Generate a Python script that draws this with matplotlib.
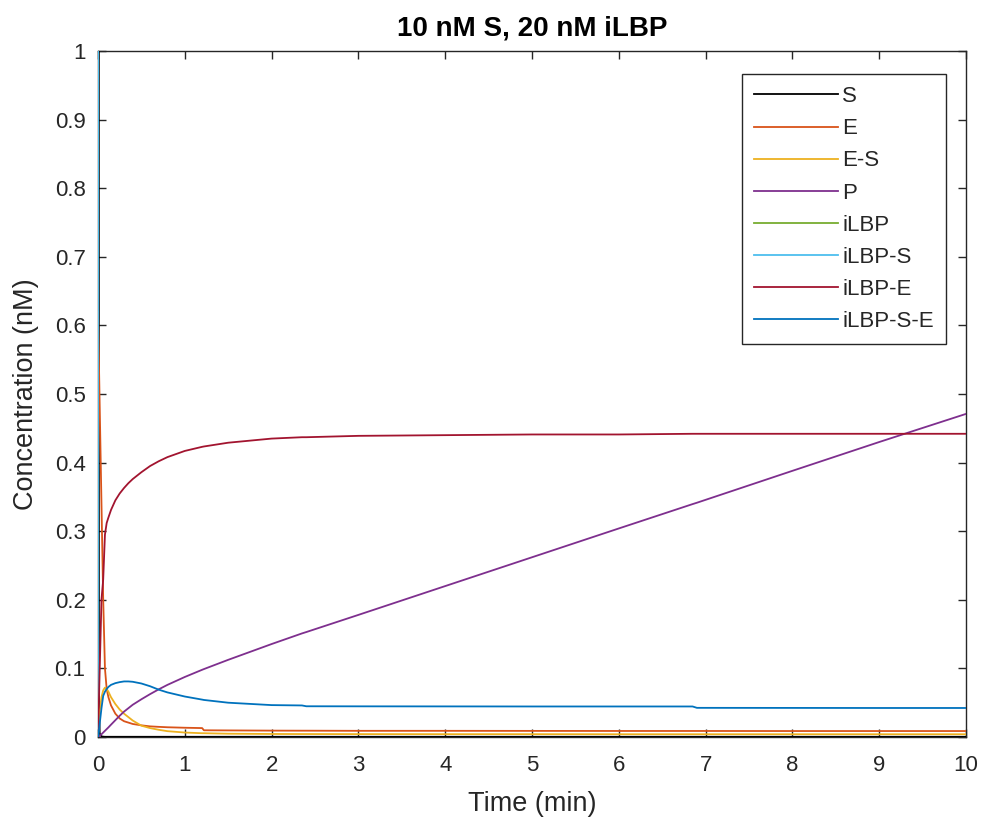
import matplotlib
matplotlib.use("Agg")
import matplotlib.pyplot as plt

plt.rcParams['font.family'] = ['Liberation Sans', 'DejaVu Sans']

# time points (min)
t = [0, 0.01, 0.02, 0.04, 0.06, 0.08, 0.10, 0.12, 0.15, 0.20, 0.25, 0.30, 0.35, 0.40,
     0.50, 0.60, 0.70, 0.80, 1.00, 1.20, 1.22, 1.50, 2.00, 2.35, 2.40, 3.0, 4.0, 5.0,
     6.0, 6.85, 6.90, 8.0, 9.0, 10.0]

S = [10, 0.05, 0.005, 0.001, 0.0005, 0.0003, 0.0003, 0.0003, 0.0003, 0.0003, 0.0003,
     0.0003, 0.0003, 0.0003, 0.0003, 0.0003, 0.0003, 0.0003, 0.0003, 0.0003, 0.0003,
     0.0003, 0.0003, 0.0003, 0.0003, 0.0003, 0.0003, 0.0003, 0.0003, 0.0003, 0.0003,
     0.0003, 0.0003, 0.0003]
E = [0.62, 0.55, 0.48, 0.34, 0.20, 0.10, 0.070, 0.058, 0.046, 0.034, 0.027, 0.023,
     0.021, 0.019, 0.017, 0.0155, 0.0148, 0.0142, 0.0135, 0.013, 0.0098, 0.0096,
     0.0093, 0.0092, 0.0092, 0.009, 0.009, 0.0089, 0.0088, 0.0088, 0.0088, 0.0087,
     0.0087, 0.0087]
ES = [0, 0.02, 0.038, 0.058, 0.068, 0.072, 0.070, 0.066, 0.058, 0.048, 0.040, 0.034,
      0.029, 0.024, 0.0165, 0.013, 0.0105, 0.0085, 0.0065, 0.0055, 0.0055, 0.0048,
      0.0044, 0.0043, 0.0043, 0.0042, 0.0041, 0.0041, 0.0040, 0.0040, 0.0040, 0.0040,
      0.0040, 0.0040]
P = [0, 0.0007, 0.0015, 0.004, 0.0065, 0.009, 0.0115, 0.014, 0.018, 0.0245, 0.031,
     0.037, 0.042, 0.047, 0.055, 0.0625, 0.0695, 0.076, 0.0875, 0.098, 0.099, 0.1125,
     0.1355, 0.151, 0.153, 0.178, 0.220, 0.262, 0.304, 0.3395, 0.3415, 0.388, 0.430,
     0.471]
iLBP = [20, 11, 10.2, 10.05, 10.02, 10.01, 10.01, 10.01, 10.01, 10.01, 10.01, 10.01,
        10.01, 10.01, 10.01, 10.01, 10.01, 10.01, 10.01, 10.01, 10.01, 10.01, 10.01,
        10.01, 10.01, 10.01, 10.01, 10.01, 10.01, 10.01, 10.01, 10.01, 10.01, 10.01]
iLBP_S = [0, 9.0, 9.8, 9.9, 9.95, 9.95, 9.95, 9.95, 9.95, 9.95, 9.95, 9.95, 9.95, 9.95,
          9.95, 9.95, 9.95, 9.95, 9.95, 9.95, 9.95, 9.95, 9.95, 9.95, 9.95, 9.95, 9.95,
          9.95, 9.95, 9.95, 9.95, 9.95, 9.95, 9.95]
iLBP_E = [0, 0.05, 0.10, 0.20, 0.23, 0.295, 0.312, 0.32, 0.331, 0.345, 0.355, 0.363,
          0.370, 0.376, 0.386, 0.395, 0.402, 0.408, 0.417, 0.423, 0.4235, 0.429, 0.435,
          0.437, 0.437, 0.439, 0.440, 0.441, 0.441, 0.442, 0.442, 0.442, 0.442, 0.442]
iLBP_SE = [0, 0.008, 0.020, 0.042, 0.060, 0.066, 0.070, 0.073, 0.076, 0.0785, 0.080,
           0.081, 0.081, 0.0805, 0.078, 0.074, 0.069, 0.065, 0.059, 0.0545, 0.054, 0.050,
           0.0465, 0.046, 0.0448, 0.0447, 0.0446, 0.0445, 0.0445, 0.0445, 0.0425, 0.0424,
           0.0423, 0.0423]

labels = ['S', 'E', 'E-S', 'P', 'iLBP', 'iLBP-S', 'iLBP-E', 'iLBP-S-E']
series = [S, E, ES, P, iLBP, iLBP_S, iLBP_E, iLBP_SE]
colors = ['#000000', '#D95319', '#EDB120', '#7E2F8E', '#77AC30', '#4DBEEE',
          '#A2142F', '#0072BD']

xticks = [0, 1, 2, 3, 4, 5, 6, 7, 8, 9, 10]
yticks = [0, 0.1, 0.2, 0.3, 0.4, 0.5, 0.6, 0.7, 0.8, 0.9, 1]
yticklabels = ['0', '0.1', '0.2', '0.3', '0.4', '0.5', '0.6', '0.7', '0.8', '0.9', '1']

fig = plt.figure(figsize=(9.86, 8.23), dpi=100)
ax = fig.add_axes([98/986, 86/823, 868/986, 686/823])
for y, lab, c in zip(series, labels, colors):
    ax.plot(t, y, color=c, lw=1.3, label=lab, zorder=3)

ax.set_xlim(0, 10)
ax.set_ylim(0, 1)
ax.set_xticks(xticks)
ax.set_yticks(yticks)
ax.set_yticklabels(yticklabels)
ink = '#262626'
ax.tick_params(direction='in', top=True, right=True, length=6, width=1,
               colors=ink, labelsize=16)
ax.tick_params(axis='x', pad=13)
ax.tick_params(axis='y', pad=9)
for s in ax.spines.values():
    s.set_color(ink)
    s.set_linewidth(1.0)
ax.set_xlabel('Time (min)', fontsize=19.5, color=ink, labelpad=11)
ax.set_ylabel('Concentration (nM)', fontsize=19.5, color=ink, labelpad=11)
ax.set_title('10 nM S, 20 nM iLBP', fontsize=20, fontweight='bold', color='black', pad=11)

leg = ax.legend(loc='upper right', bbox_to_anchor=(0.977, 0.9665), borderaxespad=0,
                fontsize=16, handlelength=3.75, handletextpad=0.2, labelspacing=0.5,
                fancybox=False, framealpha=1, edgecolor=ink, borderpad=0.55)
leg.get_frame().set_linewidth(1.0)
for txt in leg.get_texts():
    txt.set_color(ink)

fig.savefig('out.png', dpi=100)
